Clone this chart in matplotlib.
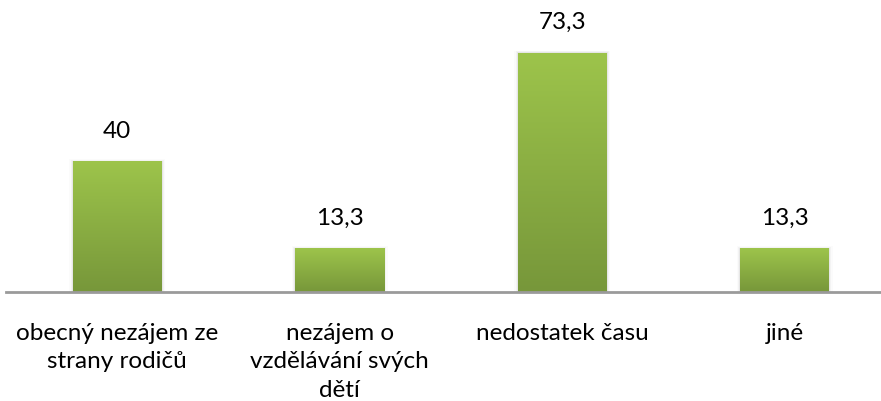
import numpy as np
import matplotlib
matplotlib.use("Agg")
import matplotlib.pyplot as plt
from matplotlib.colors import LinearSegmentedColormap

categories = ["obecný nezájem ze\nstrany rodičů",
              "nezájem o\nvzdělávání svých\ndětí",
              "nedostatek času",
              "jiné"]
values = [40, 13.3, 73.3, 13.3]
value_labels = ["40", "13,3", "73,3", "13,3"]

plt.rcParams["font.family"] = ["Lato", "DejaVu Sans"]

fig = plt.figure(figsize=(8.81, 4.01), dpi=100)
# plot area: bottom at y=292px, 3.26 px per unit
ax = fig.add_axes([6 / 881, (401 - 292) / 401, 890 / 881, 85 * 3.26 / 401])

x = np.arange(len(values))
bars = ax.bar(x, values, width=0.4, color="#8aad42", linewidth=0, zorder=2)

grad = LinearSegmentedColormap.from_list("g", ["#77973a", "#9dc44b"])
gimg = np.linspace(0, 1, 256).reshape(-1, 1)
for b in bars:
    bx, bw, bh = b.get_x(), b.get_width(), b.get_height()
    # soft shadow
    for k, a in enumerate([0.05, 0.03, 0.015]):
        off = 0.005 * (k + 1)
        ax.bar(bx + bw / 2, bh + 0.25 * (k + 1), width=bw + 2 * off,
               color="black", alpha=a, linewidth=0, zorder=1)
    # gradient fill over the bar
    ax.imshow(gimg, cmap=grad, origin="lower", aspect="auto",
              interpolation="bilinear",
              extent=[bx, bx + bw, 0, bh], zorder=3)

for xi, v, lab in zip(x, values, value_labels):
    ax.text(xi, v + 9.3, lab, ha="center", va="center", fontsize=17.5, color="black")

ax.set_xlim(-0.5, 3.5)
ax.set_ylim(0, 85)
ax.set_yticks([])
ax.set_xticks(x)
ax.set_xticklabels(categories, fontsize=17.5, linespacing=1.45)
ax.tick_params(axis="x", length=0, pad=22)
for s in ["top", "right", "left"]:
    ax.spines[s].set_visible(False)
ax.spines["bottom"].set_color("#9a9a9a")
ax.spines["bottom"].set_linewidth(2)
ax.spines["bottom"].set_zorder(4)

fig.savefig("out.png", dpi=100)
